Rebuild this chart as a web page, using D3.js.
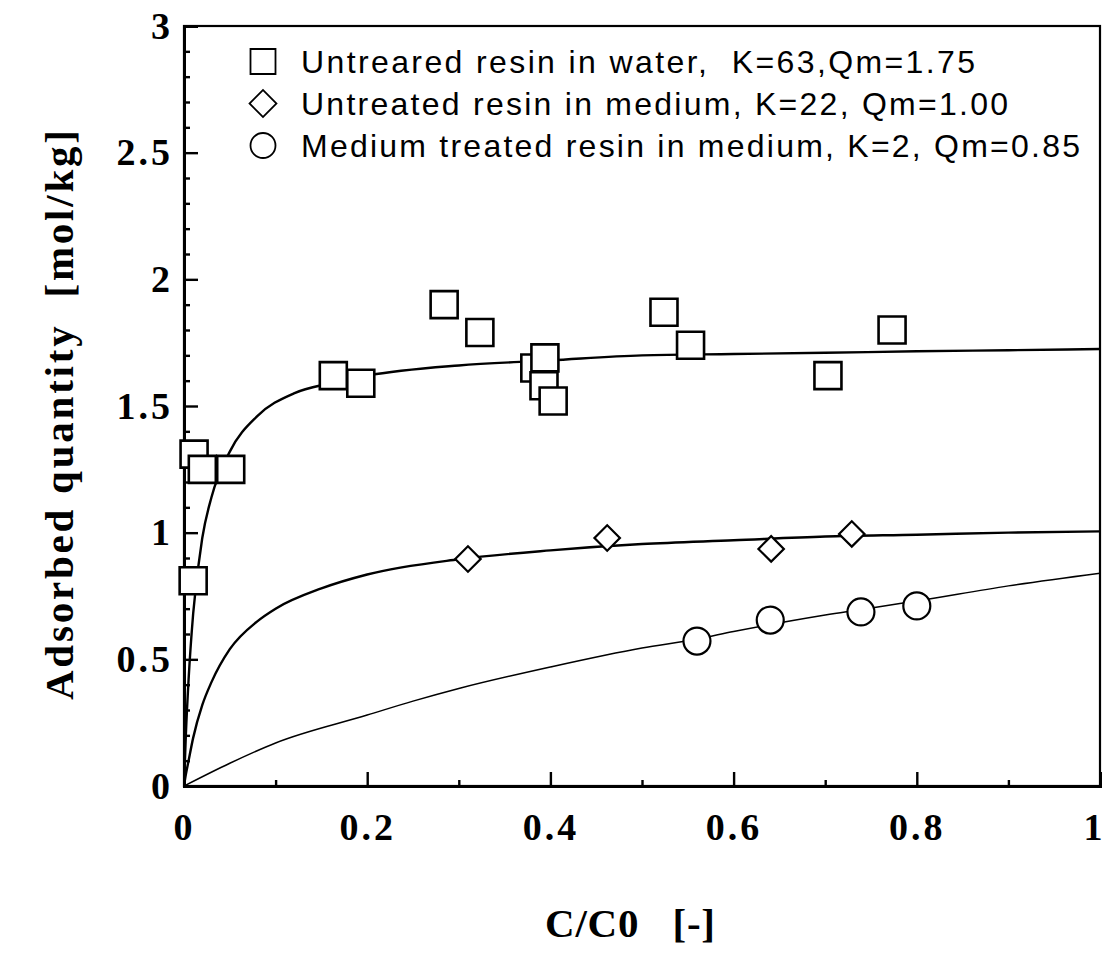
<!DOCTYPE html>
<html>
<head>
<meta charset="utf-8">
<script src="https://cdn.jsdelivr.net/npm/d3@7"></script>
<style>
  body { margin: 0; background: #fff; }
  .tick text { font-family: "Liberation Serif", "Times New Roman", serif; font-weight: bold; font-size: 38px; letter-spacing: 3px; fill: #000; }
  .legend text { font-family: "Liberation Sans", Arial, sans-serif; font-size: 32px; white-space: pre; }
  .title { font-family: "Liberation Serif", "Times New Roman", serif; font-weight: bold; font-size: 41px; white-space: pre; }
</style>
</head>
<body>
<svg id="chart" width="1109" height="972"></svg>
<script>
'use strict';

const waterX = [0.01, 0.011, 0.02, 0.051, 0.163, 0.193, 0.284, 0.323, 0.383, 0.394, 0.393, 0.403, 0.524, 0.553, 0.703, 0.773];
const waterY = [0.81, 1.31, 1.25, 1.25, 1.62, 1.59, 1.90, 1.79, 1.65, 1.69, 1.58, 1.52, 1.87, 1.74, 1.62, 1.80];

const mediumX = [0.31, 0.462, 0.641, 0.729];
const mediumY = [0.896, 0.979, 0.936, 0.995];

const treatedX = [0.56, 0.64, 0.739, 0.80];
const treatedY = [0.572, 0.655, 0.687, 0.711];

// fitted curves
const fitWaterX = [0, 0.002, 0.005, 0.01, 0.02, 0.03, 0.05, 0.08, 0.12, 0.16, 0.2, 0.3, 0.4, 0.5, 0.6, 0.7, 0.8, 0.9, 1.0];
const fitWaterY = [0, 0.2, 0.42, 0.68, 0.98, 1.14, 1.32, 1.46, 1.55, 1.59, 1.62, 1.66, 1.68, 1.70, 1.705, 1.71, 1.716, 1.72, 1.725];

const fitMediumX = [0, 0.002, 0.005, 0.01, 0.02, 0.03, 0.05, 0.08, 0.1, 0.15, 0.2, 0.3, 0.4, 0.5, 0.6, 0.7, 0.8, 0.9, 1.0];
const fitMediumY = [0, 0.045, 0.1, 0.19, 0.32, 0.41, 0.54, 0.65, 0.7, 0.78, 0.835, 0.895, 0.93, 0.955, 0.97, 0.985, 0.992, 1.0, 1.005];

const fitTreatedX = [0, 0.05, 0.1, 0.2, 0.25, 0.3, 0.4, 0.5, 0.56, 0.6, 0.7, 0.8, 0.9, 1.0];
const fitTreatedY = [0, 0.09, 0.17, 0.28, 0.335, 0.385, 0.47, 0.545, 0.58, 0.61, 0.675, 0.73, 0.79, 0.84];

const legendLabels = [
  'Untreared resin in water,  K=63,Qm=1.75',
  'Untreated resin in medium, K=22, Qm=1.00',
  'Medium treated resin in medium, K=2, Qm=0.85',
];
const legendWidths = [674, 707, 779];

const xMajor = [0, 0.2, 0.4, 0.6, 0.8, 1];
const xMinor = [0.1, 0.3, 0.5, 0.7, 0.9];
const yMajor = [0, 0.5, 1, 1.5, 2, 2.5, 3];
const yMinor = d3.range(0, 30).map((i) => i / 10).filter((v) => Math.round(v * 10) % 5 !== 0);

const mLeft = 184, mRight = 1100, mTop = 26, mBottom = 786;

const svg = d3.select('#chart');
const x = d3.scaleLinear().domain([0, 1]).range([mLeft, mRight]);
const y = d3.scaleLinear().domain([0, 3]).range([mBottom, mTop]);

const fmt = (d) => String(d);

// frame
svg.append('rect')
  .attr('x', mLeft).attr('y', mTop)
  .attr('width', mRight - mLeft).attr('height', mBottom - mTop)
  .attr('fill', 'none').attr('stroke', '#000').attr('stroke-width', 2.2);

const xAx = svg.append('g')
  .attr('transform', 'translate(0,' + mBottom + ')')
  .call(d3.axisBottom(x).tickValues(xMajor).tickFormat(fmt).tickSize(-14).tickPadding(27));
// letter-spacing trails the last glyph; the "1" sits a bit inside the page edge
xAx.selectAll('.tick text').attr('dx', (d) => (d === 1 ? -6 : 0));
svg.append('g')
  .attr('transform', 'translate(0,' + mBottom + ')')
  .call(d3.axisBottom(x).tickValues(xMinor).tickFormat('').tickSize(-6));

svg.append('g')
  .attr('transform', 'translate(' + mLeft + ',0)')
  .call(d3.axisLeft(y).tickValues(yMajor).tickFormat(fmt).tickSize(-14).tickPadding(11));
svg.append('g')
  .attr('transform', 'translate(' + mLeft + ',0)')
  .call(d3.axisLeft(y).tickValues(yMinor).tickFormat('').tickSize(-6));

svg.selectAll('.domain').attr('stroke-width', 3);
svg.selectAll('.tick line').attr('stroke-width', 2.4);
svg.selectAll('.tick text').attr('font-size', null).attr('font-family', null);

// axis titles
svg.append('text')
  .attr('class', 'title')
  .attr('x', 545).attr('y', 937)
  .attr('textLength', 170)
  .attr('lengthAdjust', 'spacing')
  .text('C/C0   [-]');

svg.append('text')
  .attr('class', 'title')
  .attr('transform', 'translate(73,700) rotate(-90)')
  .attr('textLength', 570)
  .attr('lengthAdjust', 'spacing')
  .text('Adsorbed quantity  [mol/kg]');

// curves
svg.append('clipPath').attr('id', 'plot-clip')
  .append('rect').attr('x', mLeft).attr('y', mTop)
  .attr('width', mRight - mLeft).attr('height', mBottom - mTop);

const line = d3.line()
  .x((d) => x(d[0]))
  .y((d) => y(d[1]))
  .curve(d3.curveMonotoneX);

const curves = [
  { xs: fitWaterX, ys: fitWaterY, w: 2.4 },
  { xs: fitMediumX, ys: fitMediumY, w: 2.4 },
  { xs: fitTreatedX, ys: fitTreatedY, w: 1.5 },
];
const gCurves = svg.append('g').attr('clip-path', 'url(#plot-clip)');
curves.forEach((c) => {
  gCurves.append('path')
    .datum(c.xs.map((v, i) => [v, c.ys[i]]))
    .attr('d', line)
    .attr('fill', 'none')
    .attr('stroke', '#000')
    .attr('stroke-width', c.w);
});

// markers (diamond = square turned 45deg)
const symSquare = d3.symbol().type(d3.symbolSquare).size(27 * 27);
const symDiamond = d3.symbol().type(d3.symbolSquare).size(18 * 18);
const symCircle = d3.symbol().type(d3.symbolCircle).size(Math.PI * 13.5 * 13.5);

const drawPoints = (xs, ys, sym, sw, rot) => {
  svg.append('g')
    .selectAll('path')
    .data(xs.map((v, i) => [v, ys[i]]))
    .enter()
    .append('path')
    .attr('transform', (d) => 'translate(' + x(d[0]) + ',' + y(d[1]) + ') rotate(' + rot + ')')
    .attr('d', sym)
    .attr('fill', '#fff')
    .attr('stroke', '#000')
    .attr('stroke-width', sw);
};
drawPoints(waterX, waterY, symSquare, 2.6, 0);
drawPoints(mediumX, mediumY, symDiamond, 2.2, 45);
drawPoints(treatedX, treatedY, symCircle, 2.2, 0);

// legend
const legendSyms = [
  d3.symbol().type(d3.symbolSquare).size(25 * 25),
  d3.symbol().type(d3.symbolSquare).size(19 * 19),
  d3.symbol().type(d3.symbolCircle).size(Math.PI * 12.5 * 12.5),
];
const legendRot = [0, 45, 0];
const legend = svg.append('g').attr('class', 'legend');
legendLabels.forEach((lab, i) => {
  const cy = 61.5 + i * 42;
  legend.append('path')
    .attr('transform', 'translate(263,' + cy + ') rotate(' + legendRot[i] + ')')
    .attr('d', legendSyms[i])
    .attr('fill', 'none')
    .attr('stroke', '#000')
    .attr('stroke-width', 1.8);
  legend.append('text')
    .attr('x', 301).attr('y', 73 + i * 42)
    .attr('textLength', legendWidths[i])
    .attr('lengthAdjust', 'spacing')
    .text(lab);
});
</script>
</body>
</html>
